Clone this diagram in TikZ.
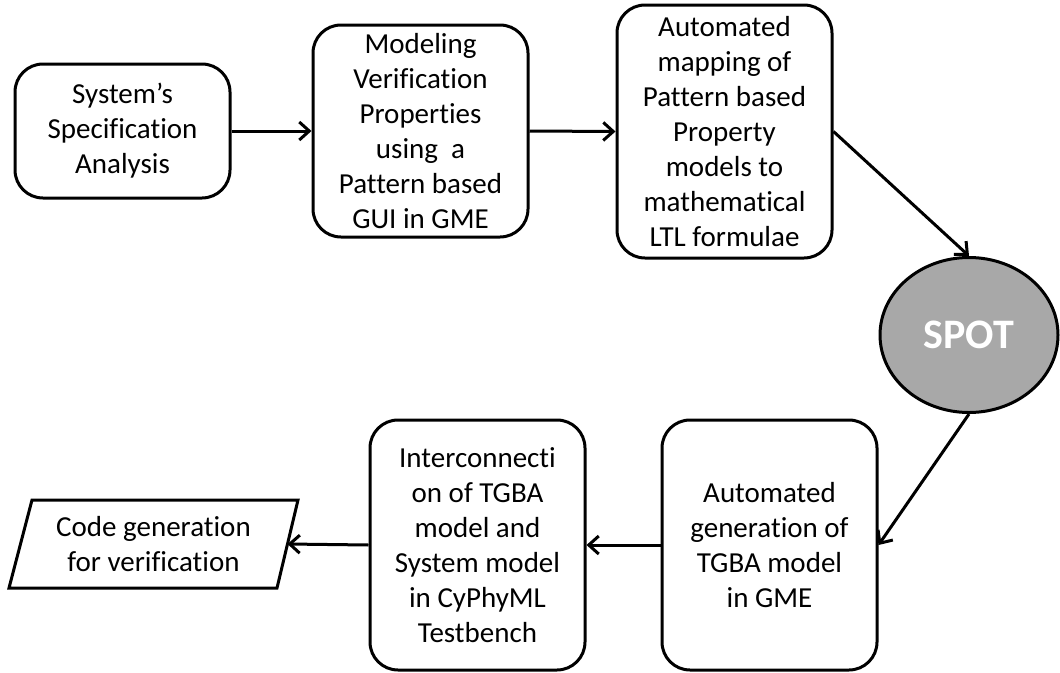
\documentclass[tikz,border=0pt]{standalone}
\usepackage{fontspec}
\setmainfont{Carlito}[Ligatures=NoCommon]
\usetikzlibrary{arrows.meta,shapes.geometric}
\tikzset{
  stepbox/.style={draw, line width=3pt, rounded corners=28pt, align=center,
    minimum width=215pt, inner sep=0pt, font=\fontsize{29}{35}\selectfont},
  flow/.style={line width=3pt, -{Straight Barb[length=10pt,width=18pt,line width=3pt]}},
  toolnode/.style={ellipse, draw, line width=3pt, fill=black!34, text=white,
    minimum width=178pt, minimum height=155pt, inner sep=0pt,
    font=\fontsize{42}{48}\selectfont\bfseries},
}
\begin{document}
\begin{tikzpicture}[x=1pt,y=-1pt]
  \useasboundingbox (0,0) rectangle (1060,672);

  % upper row
  \node[stepbox, minimum height=134pt] (spec) at (122.5,131)
    {System’s\\Specification\\Analysis};
  \node[stepbox, minimum height=212pt] (model) at (420.5,131)
    {Modeling\\Verification\\Properties\\using\ \ a\\Pattern based\\GUI in GME};
  \node[stepbox, minimum height=253pt] (map) at (724.5,131.5)
    {Automated\\mapping of\\Pattern based\\Property\\models to\\mathematical\\LTL formulae};

  % model checker
  \node[toolnode] (spot) at (969,335) {SPOT};

  % lower row
  \node[stepbox, minimum height=250pt] (tgba) at (769.5,545)
    {Automated\\generation of\\TGBA model\\in GME};
  \node[stepbox, minimum height=250pt] (inter) at (477.5,545)
    {Interconnecti\\on of TGBA\\model and\\System model\\in CyPhyML\\Testbench};

  % output (parallelogram)
  \coordinate (ptl) at (32,500);
  \coordinate (ptr) at (298,500);
  \coordinate (pbr) at (277,588);
  \coordinate (pbl) at (9,588);
  \coordinate (codein) at (287.5,544);
  \draw[line width=3pt, line join=miter] (ptl) -- (ptr) -- (pbr) -- (pbl) -- cycle;
  \node[align=center, font=\fontsize{29}{35}\selectfont] (code) at (153.5,544)
    {Code generation\\for verification};

  % connectors
  \draw[flow] (spec.east) -- (model.west);
  \draw[flow] (model.east) -- (map.west);
  \draw[flow] (map.east) -- (spot.north);
  \draw[flow] (spot.south) -- (tgba.east);
  \draw[flow] (tgba.west) -- (inter.east);
  \draw[flow] (inter.west) -- (codein);
\end{tikzpicture}
\end{document}
